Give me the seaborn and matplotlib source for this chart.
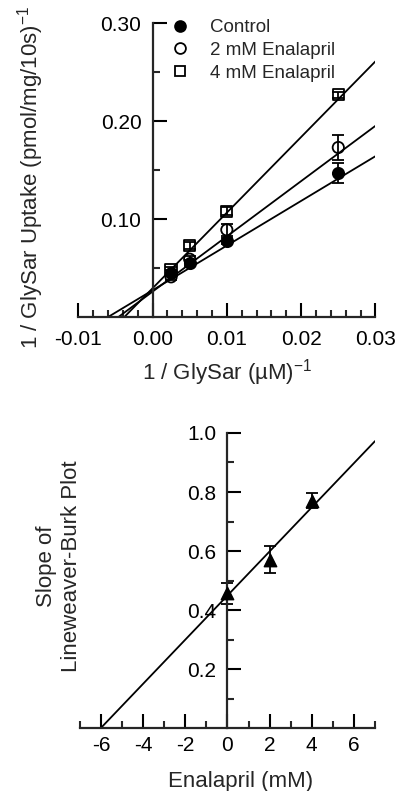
#!/usr/bin/env python3
"""
Lineweaver-Burk plot of GlySar uptake with enalapril, and the replot of slopes.
"""

import numpy as np
import matplotlib
matplotlib.use("Agg")
import matplotlib.pyplot as plt
from matplotlib.lines import Line2D
import seaborn as sns

# --- top panel: double reciprocal data ---
inv_glysar = [0.0025, 0.005, 0.01, 0.025]
series_names = ["Control", "2 mM Enalapril", "4 mM Enalapril"]
uptake_control = [0.045, 0.055, 0.078, 0.147]
uptake_2mm = [0.041, 0.059, 0.089, 0.173]
uptake_4mm = [0.048, 0.073, 0.108, 0.227]
err_control = [0.003, 0.003, 0.003, 0.010]
err_2mm = [0.003, 0.003, 0.006, 0.013]
err_4mm = [0.003, 0.004, 0.004, 0.003]
# fitted lines (intercept, slope) per series
fit_intercepts = [0.0273, 0.0259, 0.0293]
fit_slopes = [4.56, 5.64, 7.72]

top_xticks = [-0.01, 0.0, 0.01, 0.02, 0.03]
top_xticklabels = ["-0.01", "0.00", "0.01", "0.02", "0.03"]
top_yticks = [0.10, 0.20, 0.30]
top_yticklabels = ["0.10", "0.20", "0.30"]

# --- bottom panel: slope replot ---
enalapril_mm = [0, 2, 4]
lb_slope = [0.457, 0.570, 0.770]
lb_slope_err = [0.035, 0.046, 0.025]
replot_intercept = 0.449
replot_slope = 0.0748

bot_xticks = [-6, -4, -2, 0, 2, 4, 6]
bot_yticks = [0.2, 0.4, 0.6, 0.8, 1.0]
bot_yticklabels = ["0.2", "0.4", "0.6", "0.8", "1.0"]


def style_axes(ax):
    sns.despine(ax=ax)
    ax.spines["left"].set_position(("data", 0))
    ax.spines["bottom"].set_position(("data", 0))
    for s in ("left", "bottom"):
        ax.spines[s].set_linewidth(1.6)
    ax.tick_params(which="major", direction="in", length=10, width=1.5,
                   labelsize=15, colors="black")
    ax.tick_params(which="minor", direction="in", length=5, width=1.5)
    ax.tick_params(axis="y", pad=8)


def main():
    sns.set_style("ticks")
    plt.rcParams["font.family"] = ["Liberation Sans", "DejaVu Sans"]
    plt.rcParams["mathtext.fontset"] = "custom"
    plt.rcParams["mathtext.rm"] = "Liberation Sans"
    plt.rcParams["mathtext.it"] = "Liberation Sans:italic"

    fig = plt.figure(figsize=(3.99, 7.91), dpi=100)

    # ---------------- top panel ----------------
    ax = fig.add_axes([0.196, 0.5992, 0.745, 0.3717])
    ys = [uptake_control, uptake_2mm, uptake_4mm]
    errs = [err_control, err_2mm, err_4mm]
    markers = ["o", "o", "s"]
    faces = ["black", "none", "none"]

    for b, m in zip(fit_intercepts, fit_slopes):
        x0 = -b / m
        sns.lineplot(x=[x0, 0.03], y=[0, b + m * 0.03], color="black",
                     linewidth=1.3, ax=ax, zorder=1)
    for y, e in zip(ys, errs):
        ax.errorbar(inv_glysar, y, yerr=e, fmt="none", ecolor="black",
                    elinewidth=1.3, capsize=4, capthick=1.3, zorder=2)
    for y, mk, fc in zip(ys, markers, faces):
        sns.scatterplot(x=inv_glysar, y=y, marker=mk, s=66, color="black",
                        facecolor=fc, edgecolor="black", linewidth=1.3,
                        ax=ax, zorder=3)

    ax.set_xlim(-0.01, 0.03)
    ax.set_ylim(0, 0.30)
    style_axes(ax)
    ax.tick_params(axis="x", pad=9)
    ax.set_xticks(top_xticks)
    ax.set_xticklabels(top_xticklabels)
    ax.set_xticks([t for t in np.arange(-0.01, 0.0301, 0.002)
                   if min(abs(t - v) for v in top_xticks) > 1e-6], minor=True)
    ax.set_yticks(top_yticks)
    ax.set_yticklabels(top_yticklabels)
    ax.set_yticks([0.05, 0.15, 0.25], minor=True)

    ax.set_xlabel("1 / GlySar (\u00b5M)$^{-1}$", fontsize=16)
    ax.xaxis.set_label_coords(0.5, -0.135)
    ax.set_ylabel("1 / GlySar Uptake (pmol/mg/10s)$^{-1}$", fontsize=16)
    ax.yaxis.set_label_coords(-0.11, 0.475)

    handles = [Line2D([], [], linestyle="none", marker=mk, markersize=7.8,
                      markerfacecolor=fc, markeredgecolor="black",
                      markeredgewidth=1.3)
               for mk, fc in zip(markers, faces)]
    ax.legend(handles, series_names, loc="upper left", frameon=False,
              bbox_to_anchor=(171 / 399, 1 - 19 / 791),
              bbox_transform=fig.transFigure, borderpad=0, borderaxespad=0,
              handlelength=1.0, handletextpad=1.1, labelspacing=0.3,
              fontsize=13.5)

    # ---------------- bottom panel ----------------
    ax2 = fig.add_axes([0.2, 0.0796, 0.740, 0.373])
    x0 = -replot_intercept / replot_slope
    sns.lineplot(x=[x0, 7], y=[0, replot_intercept + replot_slope * 7],
                 color="black", linewidth=1.3, ax=ax2, zorder=1)
    ax2.errorbar(enalapril_mm, lb_slope, yerr=lb_slope_err, fmt="none",
                 ecolor="black", elinewidth=1.3, capsize=4, capthick=1.3,
                 zorder=2)
    sns.scatterplot(x=enalapril_mm, y=lb_slope, marker="^", s=80,
                    color="black", edgecolor="black", linewidth=1.0,
                    ax=ax2, zorder=3)

    ax2.set_xlim(-7, 7)
    ax2.set_ylim(0, 1.0)
    style_axes(ax2)
    ax2.tick_params(axis="x", pad=6)
    ax2.set_xticks(bot_xticks)
    ax2.set_xticklabels([str(t) for t in bot_xticks])
    ax2.set_xticks([-7, -5, -3, -1, 1, 3, 5, 7], minor=True)
    ax2.set_yticks(bot_yticks)
    ax2.set_yticklabels(bot_yticklabels)
    ax2.set_yticks([0.1, 0.3, 0.5, 0.7, 0.9], minor=True)

    ax2.set_xlabel("Enalapril (mM)", fontsize=16)
    ax2.xaxis.set_label_coords(0.545, -0.145)
    ax2.set_ylabel("Slope of\nLineweaver-Burk Plot", fontsize=16,
                   linespacing=1.25)
    ax2.yaxis.set_label_coords(0.006, 0.55)

    fig.savefig("out.png", dpi=100)
    plt.close(fig)


if __name__ == "__main__":
    main()
